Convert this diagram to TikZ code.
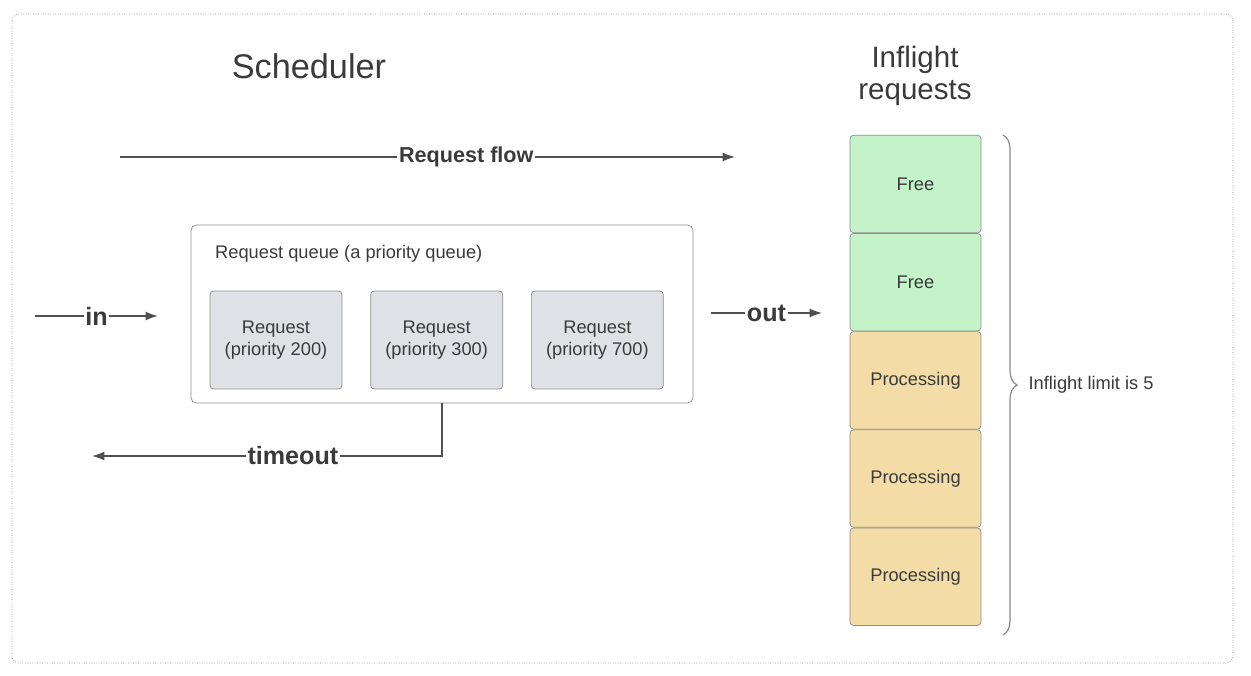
\documentclass[tikz,border=0pt]{standalone}
\usepackage{fontspec}
\setmainfont{Liberation Sans}
\usetikzlibrary{arrows.meta}
\usetikzlibrary{positioning}
\usetikzlibrary{decorations.pathreplacing}
\definecolor{txt}{HTML}{3A3A3A}
\definecolor{linegray}{HTML}{505050}
\definecolor{boxline}{HTML}{8C8C8C}
\definecolor{reqgray}{HTML}{DFE1E6}
\definecolor{freegreen}{HTML}{C5F3C9}
\definecolor{procorange}{HTML}{F4DCA6}

\begin{document}
\begin{tikzpicture}
	[x=0.02cm,y=-0.02cm,every node/.style={text=txt},
	req/.style={draw=boxline,fill=reqgray,rounded corners=2pt,minimum width=2.64cm,minimum height=1.96cm,align=center,font=\fontsize{10.4}{12.5}\selectfont},
	slot/.style={draw=boxline,rounded corners=2pt,minimum width=2.62cm,minimum height=1.95cm,font=\fontsize{10.4}{12.5}\selectfont},
	flow/.style={draw=linegray,line width=0.7pt,-{Latex[length=7pt,width=5pt]}},
	lbl/.style={fill=white,inner sep=1pt,font=\bfseries\fontsize{14.3}{16}\selectfont}]
	\useasboundingbox (0,0) rectangle (1251,676);
	\draw[boxline,densely dotted,rounded corners=4pt] (12,14) rectangle (1233,663);
	
	\node[font=\fontsize{19.5}{23}\selectfont] (sched) at (309,66) {Scheduler};
	\node[align=center,font=\fontsize{16.8}{18.4}\selectfont] (inflight) at (915,76) {Inflight\\requests};
	
	\node[draw=boxline,rounded corners=3pt,minimum width=10.04cm,minimum height=3.56cm] (queue) at (442,314) {};
	\node[anchor=west,font=\fontsize{10.4}{12.5}\selectfont] (qlabel) at (209,254) {Request queue (a priority queue)};
	\node[req] (r1) at (276,340) {Request\\(priority 200)};
	\node[req,right=0.56cm of r1] (r2) {Request\\(priority 300)};
	\node[req,right=0.56cm of r2] (r3) {Request\\(priority 700)};
	
	\node[slot,fill=freegreen] (s1) at (915.5,184) {Free};
	\node[slot,fill=freegreen,below=0pt of s1] (s2) {Free};
	\node[slot,fill=procorange,below=0pt of s2] (s3) {Processing};
	\node[slot,fill=procorange,below=0pt of s3] (s4) {Processing};
	\node[slot,fill=procorange,below=0pt of s4] (s5) {Processing};
	
	\coordinate (fa) at (120,157);
	\coordinate (fb) at (735,157);
	\coordinate (ina) at (35,316);
	\coordinate (inb) at (158,316);
	\coordinate (outa) at (711,313);
	\coordinate (outb) at (822,313);
	\coordinate (tend) at (92,456);
	\coordinate (bt) at (1003,135);
	\coordinate (bb) at (1003,635);
	
	\draw[flow] (fa) -- node[lbl,pos=0.563,font=\bfseries\fontsize{12.3}{14}\selectfont] {Request flow} (fb);
	\draw[flow] (ina) -- node[lbl] {in} (inb);
	\draw[flow] (outa) -- node[lbl] {out} (outb);
	\draw[flow] (queue.south) |- node[lbl,pos=0.713] {timeout} (tend);
	
	\draw[boxline,line width=0.7pt,decorate,decoration={brace,amplitude=8pt}] (bt) -- node[anchor=west,xshift=0.5cm,inner sep=0,font=\fontsize{10.4}{12.5}\selectfont] {Inflight limit is 5} (bb);
\end{tikzpicture}
\end{document}
